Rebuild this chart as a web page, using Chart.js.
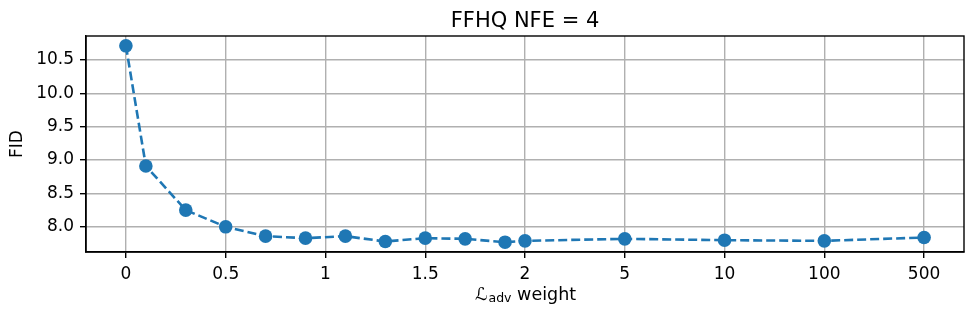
<!DOCTYPE html>
<html>
<head>
<meta charset="utf-8">
<title>FFHQ NFE = 4</title>
<script src="https://cdn.jsdelivr.net/npm/chart.js@4"></script>
<style>
  html, body { margin: 0; padding: 0; background: #fff; }
  canvas { display: block; }
</style>
</head>
<body>
<canvas id="chart" width="976" height="318"></canvas>
<script>
// adversarial loss weights that were tried, and the FID for each
const weights = [0, 0.1, 0.3, 0.5, 0.7, 0.9, 1.1, 1.3, 1.5, 1.7, 1.9, 2, 5, 10, 100, 500];
const fid = [10.71, 8.91, 8.25, 8.00, 7.86, 7.83, 7.86, 7.78, 7.83, 7.82, 7.77, 7.79, 7.82, 7.80, 7.79, 7.84];

// x axis tick labels, evenly spaced (0..2 is linear, the rest one slot each)
const xTickLabels = ['0', '0.5', '1', '1.5', '2', '5', '10', '100', '500'];
const yTicks = [8.0, 8.5, 9.0, 9.5, 10.0, 10.5];

const FONT = 'DejaVu Sans';
const BLUE = '#1f77b4';

// place a weight on the piecewise axis
function axisPos(w) {
  if (w <= 2) return w * 2;
  return xTickLabels.indexOf(String(w));
}

const points = weights.map((w, i) => ({ x: axisPos(w), y: fid[i] }));

// title, axis labels and the top/right spines
const decorations = {
  id: 'decorations',
  afterDraw(chart) {
    const { ctx, chartArea: a } = chart;
    ctx.save();
    ctx.strokeStyle = '#000';
    ctx.lineWidth = 1.4;
    ctx.strokeRect(a.left, a.top, a.right - a.left, a.bottom - a.top);

    const cx = (a.left + a.right) / 2;
    ctx.fillStyle = '#000';
    ctx.textBaseline = 'alphabetic';

    // title
    ctx.font = `21px "${FONT}"`;
    ctx.textAlign = 'center';
    ctx.fillText('FFHQ NFE = 4', cx, 27);

    // x label: script L with "adv" subscript
    const big = `17.5px "${FONT}"`;
    const small = `12.5px "${FONT}"`;
    ctx.font = `italic ${big}`;
    const wL = ctx.measureText('\u2112').width;
    ctx.font = big;
    const wRest = ctx.measureText(' weight').width;
    ctx.font = small;
    const wSub = ctx.measureText('adv').width;
    let x = cx - (wL + wSub + wRest) / 2;
    const base = 300;
    ctx.textAlign = 'left';
    ctx.font = `italic ${big}`;
    ctx.fillText('\u2112', x, base);
    x += wL + 1;
    ctx.font = small;
    ctx.fillText('adv', x, base + 2);
    x += wSub;
    ctx.font = big;
    ctx.fillText(' weight', x, base);

    // y label
    ctx.translate(17.5, (a.top + a.bottom) / 2);
    ctx.rotate(-Math.PI / 2);
    ctx.textAlign = 'center';
    ctx.textBaseline = 'middle';
    ctx.font = `17px "${FONT}"`;
    ctx.fillText('FID', 0, 0);
    ctx.restore();
  }
};

new Chart(document.getElementById('chart'), {
  type: 'line',
  data: {
    datasets: [{
      data: points,
      borderColor: BLUE,
      borderWidth: 2.6,
      borderDash: [9, 4],
      pointRadius: 6.8,
      pointBackgroundColor: BLUE,
      pointBorderWidth: 0,
      tension: 0,
      clip: false
    }]
  },
  options: {
    responsive: false,
    animation: false,
    devicePixelRatio: 1,
    layout: { padding: { top: 36, right: 12, left: 0, bottom: 0 } },
    plugins: {
      legend: { display: false },
      tooltip: { enabled: false },
      title: { display: false }
    },
    scales: {
      x: {
        type: 'linear',
        min: -0.4,
        max: 8.4,
        afterBuildTicks: (s) => { s.ticks = xTickLabels.map((_, i) => ({ value: i })); },
        afterFit: (s) => { s.height = 66; },
        ticks: {
          autoSkip: false,
          maxRotation: 0,
          padding: 6,
          color: '#000',
          font: { family: FONT, size: 17 },
          callback: (v, i) => xTickLabels[i]
        },
        grid: {
          color: '#b0b0b0',
          lineWidth: 1.4,
          tickColor: '#000',
          tickLength: 6,
          tickWidth: 1.4
        },
        border: { display: true, color: '#000', width: 1.4 }
      },
      y: {
        min: 7.623,
        max: 10.857,
        afterBuildTicks: (s) => { s.ticks = yTicks.map((v) => ({ value: v })); },
        afterFit: (s) => { s.width = 86; },
        ticks: {
          padding: 6,
          color: '#000',
          font: { family: FONT, size: 17 },
          callback: (v) => Number(v).toFixed(1)
        },
        grid: {
          color: '#b0b0b0',
          lineWidth: 1.4,
          tickColor: '#000',
          tickLength: 6,
          tickWidth: 1.4
        },
        border: { display: true, color: '#000', width: 1.4 }
      }
    }
  },
  plugins: [decorations]
});
</script>
</body>
</html>
